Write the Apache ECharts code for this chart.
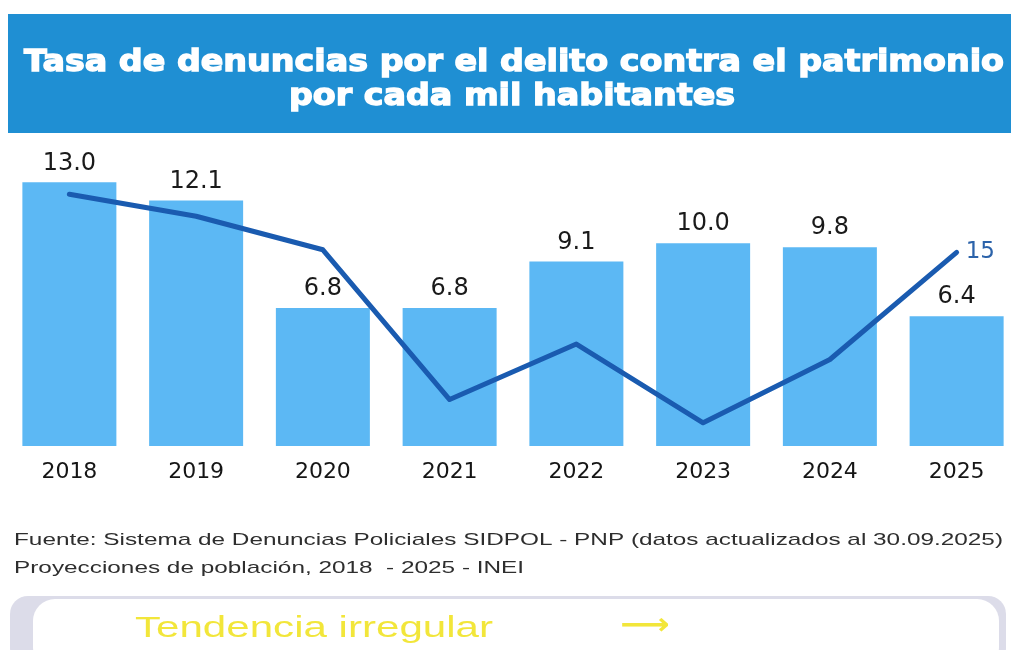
<!DOCTYPE html>
<html>
<head>
<meta charset="utf-8">
<script src="https://cdn.jsdelivr.net/npm/echarts@6/dist/echarts.min.js"></script>
<style>
  html, body { margin: 0; padding: 0; background: #fff; overflow: hidden; }
  #chart { width: 1030px; height: 650px; }
</style>
</head>
<body>
<div id="chart"></div>
<script>
// datos
var years = ['2018', '2019', '2020', '2021', '2022', '2023', '2024', '2025'];
var tasa = [13.0, 12.1, 6.8, 6.8, 9.1, 10.0, 9.8, 6.4];
var tendencia = [19.5, 17.8, 15.2, 3.6, 7.9, 1.8, 6.7, 15];

var titleLines = ['Tasa de denuncias por el delito contra el patrimonio', 'por cada mil habitantes'];
var fuente = 'Fuente: Sistema de Denuncias Policiales SIDPOL - PNP (datos actualizados al 30.09.2025)';
var proyeccion = 'Proyecciones de población, 2018  - 2025 - INEI';
var nota = 'Tendencia irregular';

// el original esta estirado a lo ancho: medir y escalar los textos
var ctx = document.createElement('canvas').getContext('2d');
function fitScale(text, font, width) {
  ctx.font = font;
  return width / ctx.measureText(text).width;
}
var titleFont = 'bold 31px "DejaVu Sans"';
var footFont = '17px "Liberation Sans"';
var notaFont = '29px "Liberation Sans"';
var titleScale = fitScale(titleLines[0], titleFont, 980);
var footScale = fitScale(fuente, footFont, 989);
var notaScale = fitScale(nota, notaFont, 358);

var chart = echarts.init(document.getElementById('chart'));

var option = {
  animation: false,
  backgroundColor: '#fff',
  grid: { left: 6, right: 10, top: 162, bottom: 204, containLabel: false },
  xAxis: {
    type: 'category',
    data: years,
    axisLine: { show: false },
    axisTick: { show: false },
    axisLabel: {
      margin: 15,
      fontSize: 22,
      color: '#151515',
      fontFamily: 'DejaVu Sans'
    }
  },
  yAxis: [
    { type: 'value', min: 0, max: 14, show: false, splitLine: { show: false } },
    { type: 'value', min: 0, max: 22, show: false, splitLine: { show: false } }
  ],
  series: [
    {
      name: 'Tasa',
      type: 'bar',
      data: tasa,
      barWidth: 94,
      itemStyle: { color: '#5cb8f4' },
      label: {
        show: true,
        position: 'top',
        distance: 7,
        fontSize: 24,
        color: '#1a1a1a',
        fontFamily: 'DejaVu Sans',
        formatter: function (p) { return p.value.toFixed(1); }
      }
    },
    {
      name: 'Tendencia',
      type: 'line',
      yAxisIndex: 1,
      data: tendencia,
      symbol: 'none',
      lineStyle: { color: '#1a5bb0', width: 5, cap: 'round', join: 'round' },
      endLabel: {
        show: true,
        distance: 9,
        fontSize: 23,
        color: '#2c63aa',
        fontFamily: 'DejaVu Sans',
        formatter: '{c}'
      },
      z: 5
    }
  ],
  graphic: [
    { type: 'rect', left: 8, top: 14, shape: { width: 1030, height: 119 }, style: { fill: '#1f8fd3' }, z: -1 },
    {
      type: 'text', x: 514, y: 63, scaleX: titleScale,
      style: { text: titleLines[0], fill: '#fff', stroke: '#fff', lineWidth: 1.4, font: titleFont, textAlign: 'center', textVerticalAlign: 'middle' }
    },
    {
      type: 'text', x: 512, y: 97, scaleX: titleScale,
      style: { text: titleLines[1], fill: '#fff', stroke: '#fff', lineWidth: 1.4, font: titleFont, textAlign: 'center', textVerticalAlign: 'middle' }
    },
    {
      type: 'text', x: 14, y: 540, scaleX: footScale,
      style: { text: fuente, fill: '#2e2e2e', font: footFont, textVerticalAlign: 'middle' }
    },
    {
      type: 'text', x: 14, y: 568, scaleX: footScale,
      style: { text: proyeccion, fill: '#2e2e2e', font: footFont, textVerticalAlign: 'middle' }
    },
    { type: 'rect', shape: { x: 10, y: 596, width: 996, height: 70, r: 18 }, style: { fill: '#dcdce9' } },
    { type: 'rect', shape: { x: 33, y: 599, width: 966, height: 70, r: 22 }, style: { fill: '#fff' } },
    {
      type: 'text', x: 135, y: 629, scaleX: notaScale,
      style: { text: nota, fill: '#f2e63a', font: notaFont, textVerticalAlign: 'middle' }
    },
    {
      type: 'text', x: 620, y: 626, scaleX: 1.15,
      style: { text: '\u27F6', fill: '#f2e63a', font: 'bold 30px "DejaVu Sans"', textVerticalAlign: 'middle' }
    }
  ]
};

chart.setOption(option);
</script>
</body>
</html>
